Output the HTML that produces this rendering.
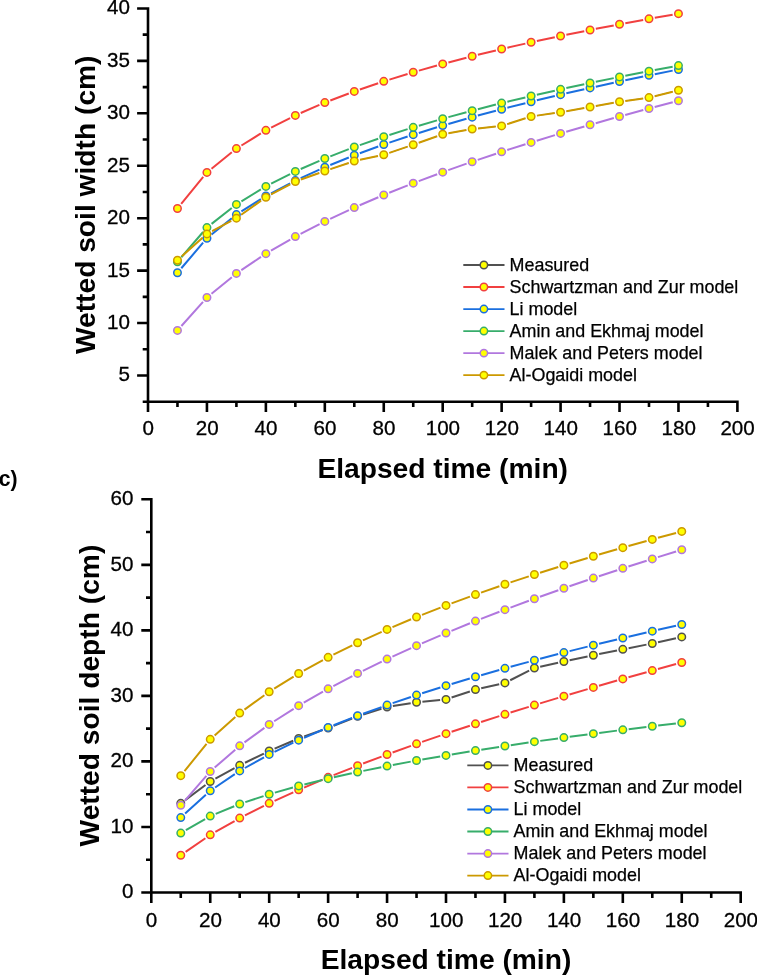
<!DOCTYPE html>
<html><head><meta charset="utf-8"><title>chart</title>
<style>
html,body{margin:0;padding:0;background:#fff;}
body{width:757px;height:975px;overflow:hidden;}
svg{display:block;font-family:"Liberation Sans", sans-serif;will-change:transform;}
</style></head><body>
<svg width="757" height="975" viewBox="0 0 757 975">
<rect width="757" height="975" fill="#fff"/>
<path d="M181.88 256.22L202.53 237.84M212.14 231.14L231.21 220.97M241.22 214.77L261.07 200.64M271.08 194.44L290.15 184.26M300.91 179.51L319.26 172.98M330.41 169.11L348.70 162.93M360.06 159.80L377.99 155.98M389.35 152.85L407.64 146.67M418.79 142.80L437.14 136.27M448.51 133.26L466.36 130.08M478.04 128.42L495.77 126.53M507.26 124.10L525.49 118.27M536.95 115.63L554.74 113.10M566.39 111.24L584.24 108.06M595.86 105.99L613.71 102.82M625.36 100.95L643.15 98.42M654.72 96.16L672.73 91.67" stroke="#515151" stroke-width="0.8" fill="none"/>
<g fill="#FFFF00" stroke="#515151" stroke-width="0.8"><circle cx="177.47" cy="260.14" r="2.6"/><circle cx="206.94" cy="233.92" r="2.6"/><circle cx="236.41" cy="218.19" r="2.6"/><circle cx="265.88" cy="197.22" r="2.6"/><circle cx="295.35" cy="181.49" r="2.6"/><circle cx="324.82" cy="171.00" r="2.6"/><circle cx="354.29" cy="161.04" r="2.6"/><circle cx="383.76" cy="154.74" r="2.6"/><circle cx="413.23" cy="144.78" r="2.6"/><circle cx="442.70" cy="134.29" r="2.6"/><circle cx="472.17" cy="129.05" r="2.6"/><circle cx="501.64" cy="125.90" r="2.6"/><circle cx="531.11" cy="116.47" r="2.6"/><circle cx="560.58" cy="112.27" r="2.6"/><circle cx="590.05" cy="107.03" r="2.6"/><circle cx="619.52" cy="101.78" r="2.6"/><circle cx="648.99" cy="97.59" r="2.6"/><circle cx="678.46" cy="90.25" r="2.6"/></g>
<path d="M181.20 203.97L203.21 176.99M211.53 168.71L231.82 152.30M241.43 145.49L260.86 133.45M271.14 127.68L290.09 118.05M300.76 113.03L319.41 104.94M330.33 100.50L348.78 93.48M359.88 89.48L378.17 83.25M389.40 79.61L407.59 74.00M418.91 70.65L437.02 65.53M448.41 62.43L466.46 57.70M477.90 54.81L495.91 50.43M507.39 47.72L525.36 43.61M536.88 41.06L554.81 37.21M566.36 34.79L584.27 31.15M595.84 28.85L613.73 25.40M625.32 23.22L643.19 19.93M654.80 17.85L672.65 14.71" stroke="#F14040" stroke-width="2.0" fill="none"/>
<g fill="#FFFF00" stroke="#F14040" stroke-width="1.5"><circle cx="177.47" cy="208.54" r="3.75"/><circle cx="206.94" cy="172.42" r="3.75"/><circle cx="236.41" cy="148.59" r="3.75"/><circle cx="265.88" cy="130.35" r="3.75"/><circle cx="295.35" cy="115.38" r="3.75"/><circle cx="324.82" cy="102.60" r="3.75"/><circle cx="354.29" cy="91.38" r="3.75"/><circle cx="383.76" cy="81.35" r="3.75"/><circle cx="413.23" cy="72.26" r="3.75"/><circle cx="442.70" cy="63.92" r="3.75"/><circle cx="472.17" cy="56.21" r="3.75"/><circle cx="501.64" cy="49.03" r="3.75"/><circle cx="531.11" cy="42.30" r="3.75"/><circle cx="560.58" cy="35.96" r="3.75"/><circle cx="590.05" cy="29.97" r="3.75"/><circle cx="619.52" cy="24.28" r="3.75"/><circle cx="648.99" cy="18.87" r="3.75"/><circle cx="678.46" cy="13.69" r="3.75"/></g>
<path d="M181.30 268.24L203.11 242.71M211.54 234.53L231.81 218.28M241.40 211.44L260.89 199.19M271.10 193.31L290.13 183.32M300.72 178.13L319.45 169.61M330.29 164.95L348.82 157.47M359.83 153.23L378.22 146.53M389.36 142.64L407.63 136.54M418.87 132.93L437.06 127.33M448.37 123.96L466.50 118.75M477.87 115.59L495.94 110.73M507.36 107.74L525.39 103.17M536.85 100.34L554.84 96.02M566.33 93.33L584.30 89.23M595.82 86.66L613.75 82.76M625.30 80.30L643.21 76.57M654.78 74.21L672.67 70.64" stroke="#1A6FDF" stroke-width="2.0" fill="none"/>
<g fill="#FFFF00" stroke="#1A6FDF" stroke-width="1.5"><circle cx="177.47" cy="272.72" r="3.75"/><circle cx="206.94" cy="238.22" r="3.75"/><circle cx="236.41" cy="214.59" r="3.75"/><circle cx="265.88" cy="196.05" r="3.75"/><circle cx="295.35" cy="180.57" r="3.75"/><circle cx="324.82" cy="167.16" r="3.75"/><circle cx="354.29" cy="155.26" r="3.75"/><circle cx="383.76" cy="144.51" r="3.75"/><circle cx="413.23" cy="134.67" r="3.75"/><circle cx="442.70" cy="125.59" r="3.75"/><circle cx="472.17" cy="117.13" r="3.75"/><circle cx="501.64" cy="109.20" r="3.75"/><circle cx="531.11" cy="101.72" r="3.75"/><circle cx="560.58" cy="94.64" r="3.75"/><circle cx="590.05" cy="87.92" r="3.75"/><circle cx="619.52" cy="81.50" r="3.75"/><circle cx="648.99" cy="75.37" r="3.75"/><circle cx="678.46" cy="69.48" r="3.75"/></g>
<path d="M181.32 257.24L203.09 232.02M211.58 223.91L231.77 208.06M241.44 201.33L260.85 189.47M271.14 183.71L290.09 174.08M300.75 169.04L319.42 160.86M330.32 156.35L348.79 149.19M359.86 145.11L378.19 138.70M389.38 134.96L407.61 129.15M418.89 125.70L437.04 120.37M448.39 117.15L466.48 112.21M477.89 109.19L495.92 104.58M507.38 101.74L525.37 97.42M536.86 94.73L554.83 90.65M566.35 88.10L584.28 84.23M595.83 81.80L613.74 78.12M625.31 75.79L643.20 72.28M654.79 70.05L672.66 66.69" stroke="#37AD6B" stroke-width="2.0" fill="none"/>
<g fill="#FFFF00" stroke="#37AD6B" stroke-width="1.5"><circle cx="177.47" cy="261.71" r="3.75"/><circle cx="206.94" cy="227.56" r="3.75"/><circle cx="236.41" cy="204.41" r="3.75"/><circle cx="265.88" cy="186.39" r="3.75"/><circle cx="295.35" cy="171.41" r="3.75"/><circle cx="324.82" cy="158.49" r="3.75"/><circle cx="354.29" cy="147.05" r="3.75"/><circle cx="383.76" cy="136.76" r="3.75"/><circle cx="413.23" cy="127.36" r="3.75"/><circle cx="442.70" cy="118.70" r="3.75"/><circle cx="472.17" cy="110.65" r="3.75"/><circle cx="501.64" cy="103.12" r="3.75"/><circle cx="531.11" cy="96.04" r="3.75"/><circle cx="560.58" cy="89.34" r="3.75"/><circle cx="590.05" cy="82.98" r="3.75"/><circle cx="619.52" cy="76.93" r="3.75"/><circle cx="648.99" cy="71.14" r="3.75"/><circle cx="678.46" cy="65.60" r="3.75"/></g>
<path d="M181.41 326.01L203.00 301.95M211.51 293.82L231.84 277.16M241.31 270.14L260.98 256.93M270.99 250.69L290.24 239.53M300.59 233.87L319.58 224.09M330.17 218.89L348.94 210.12M359.71 205.29L378.34 197.28M389.24 192.76L407.75 185.36M418.75 181.10L437.18 174.20M448.26 170.16L466.61 163.68M477.76 159.84L496.05 153.71M507.26 150.04L525.49 144.21M536.75 140.70L554.94 135.14M566.24 131.76L584.39 126.45M595.73 123.19L613.84 118.08M625.21 114.94L643.30 110.02M654.70 106.98L672.75 102.23" stroke="#B177DE" stroke-width="2.0" fill="none"/>
<g fill="#FFFF00" stroke="#B177DE" stroke-width="1.5"><circle cx="177.47" cy="330.40" r="3.75"/><circle cx="206.94" cy="297.55" r="3.75"/><circle cx="236.41" cy="273.43" r="3.75"/><circle cx="265.88" cy="253.65" r="3.75"/><circle cx="295.35" cy="236.57" r="3.75"/><circle cx="324.82" cy="221.39" r="3.75"/><circle cx="354.29" cy="207.62" r="3.75"/><circle cx="383.76" cy="194.95" r="3.75"/><circle cx="413.23" cy="183.17" r="3.75"/><circle cx="442.70" cy="172.13" r="3.75"/><circle cx="472.17" cy="161.71" r="3.75"/><circle cx="501.64" cy="151.83" r="3.75"/><circle cx="531.11" cy="142.42" r="3.75"/><circle cx="560.58" cy="133.42" r="3.75"/><circle cx="590.05" cy="124.79" r="3.75"/><circle cx="619.52" cy="116.48" r="3.75"/><circle cx="648.99" cy="108.47" r="3.75"/><circle cx="678.46" cy="100.74" r="3.75"/></g>
<path d="M181.88 256.22L202.53 237.84M212.14 231.14L231.21 220.97M241.22 214.77L261.07 200.64M271.08 194.44L290.15 184.26M300.91 179.51L319.26 172.98M330.41 169.11L348.70 162.93M360.06 159.80L377.99 155.98M389.35 152.85L407.64 146.67M418.79 142.80L437.14 136.27M448.51 133.26L466.36 130.08M478.04 128.42L495.77 126.53M507.26 124.10L525.49 118.27M536.95 115.63L554.74 113.10M566.39 111.24L584.24 108.06M595.86 105.99L613.71 102.82M625.36 100.95L643.15 98.42M654.72 96.16L672.73 91.67" stroke="#CC9900" stroke-width="2.0" fill="none"/>
<g fill="#FFFF00" stroke="#CC9900" stroke-width="1.5"><circle cx="177.47" cy="260.14" r="3.75"/><circle cx="206.94" cy="233.92" r="3.75"/><circle cx="236.41" cy="218.19" r="3.75"/><circle cx="265.88" cy="197.22" r="3.75"/><circle cx="295.35" cy="181.49" r="3.75"/><circle cx="324.82" cy="171.00" r="3.75"/><circle cx="354.29" cy="161.04" r="3.75"/><circle cx="383.76" cy="154.74" r="3.75"/><circle cx="413.23" cy="144.78" r="3.75"/><circle cx="442.70" cy="134.29" r="3.75"/><circle cx="472.17" cy="129.05" r="3.75"/><circle cx="501.64" cy="125.90" r="3.75"/><circle cx="531.11" cy="116.47" r="3.75"/><circle cx="560.58" cy="112.27" r="3.75"/><circle cx="590.05" cy="107.03" r="3.75"/><circle cx="619.52" cy="101.78" r="3.75"/><circle cx="648.99" cy="97.59" r="3.75"/><circle cx="678.46" cy="90.25" r="3.75"/></g>
<path d="M148.00 7.15V403.01M146.70 401.71H738.70M148.00 375.50H137.10M148.00 323.06H137.10M148.00 270.62H137.10M148.00 218.19H137.10M148.00 165.75H137.10M148.00 113.32H137.10M148.00 60.89H137.10M148.00 8.45H137.10M148.00 401.71H142.70M148.00 349.28H142.70M148.00 296.84H142.70M148.00 244.41H142.70M148.00 191.97H142.70M148.00 139.54H142.70M148.00 87.10H142.70M148.00 34.67H142.70M148.00 401.71V412.11M206.94 401.71V412.11M265.88 401.71V412.11M324.82 401.71V412.11M383.76 401.71V412.11M442.70 401.71V412.11M501.64 401.71V412.11M560.58 401.71V412.11M619.52 401.71V412.11M678.46 401.71V412.11M737.40 401.71V412.11M177.47 401.71V407.11M236.41 401.71V407.11M295.35 401.71V407.11M354.29 401.71V407.11M413.23 401.71V407.11M472.17 401.71V407.11M531.11 401.71V407.11M590.05 401.71V407.11M648.99 401.71V407.11M707.93 401.71V407.11" stroke="#000" stroke-width="2.6" fill="none"/>
<g font-size="20.6" fill="#000" stroke="#000" stroke-width="0.3">
<text x="130.00" y="381.44" text-anchor="end">5</text>
<text x="130.00" y="329.01" text-anchor="end">10</text>
<text x="130.00" y="276.57" text-anchor="end">15</text>
<text x="130.00" y="224.14" text-anchor="end">20</text>
<text x="130.00" y="171.70" text-anchor="end">25</text>
<text x="130.00" y="119.27" text-anchor="end">30</text>
<text x="130.00" y="66.84" text-anchor="end">35</text>
<text x="130.00" y="14.40" text-anchor="end">40</text>
<text x="148.20" y="435.30" text-anchor="middle">0</text>
<text x="207.14" y="435.30" text-anchor="middle">20</text>
<text x="266.08" y="435.30" text-anchor="middle">40</text>
<text x="325.02" y="435.30" text-anchor="middle">60</text>
<text x="383.96" y="435.30" text-anchor="middle">80</text>
<text x="442.90" y="435.30" text-anchor="middle">100</text>
<text x="501.84" y="435.30" text-anchor="middle">120</text>
<text x="560.78" y="435.30" text-anchor="middle">140</text>
<text x="619.72" y="435.30" text-anchor="middle">160</text>
<text x="678.66" y="435.30" text-anchor="middle">180</text>
<text x="737.60" y="435.30" text-anchor="middle">200</text>
</g>
<g font-size="28.2" font-weight="bold" fill="#000">
<text x="442.70" y="477.90" text-anchor="middle">Elapsed time (min)</text>
<text transform="translate(94.95 204.78) rotate(-90)" text-anchor="middle">Wetted soil width (cm)</text>
</g>
<g font-size="17.9" fill="#000" stroke="#000" stroke-width="0.25">
<path d="M463.30 265.00H504.50" stroke="#515151" stroke-width="1.8"/>
<circle cx="483.90" cy="265.00" r="3.7" fill="#FFFF00" stroke="#515151" stroke-width="1.5"/>
<text x="509.60" y="270.80">Measured</text>
<path d="M463.30 287.02H504.50" stroke="#F14040" stroke-width="1.8"/>
<circle cx="483.90" cy="287.02" r="3.7" fill="#FFFF00" stroke="#F14040" stroke-width="1.5"/>
<text x="509.60" y="292.82">Schwartzman and Zur model</text>
<path d="M463.30 309.04H504.50" stroke="#1A6FDF" stroke-width="1.8"/>
<circle cx="483.90" cy="309.04" r="3.7" fill="#FFFF00" stroke="#1A6FDF" stroke-width="1.5"/>
<text x="509.60" y="314.84">Li model</text>
<path d="M463.30 331.06H504.50" stroke="#37AD6B" stroke-width="1.8"/>
<circle cx="483.90" cy="331.06" r="3.7" fill="#FFFF00" stroke="#37AD6B" stroke-width="1.5"/>
<text x="509.60" y="336.86">Amin and Ekhmaj model</text>
<path d="M463.30 353.08H504.50" stroke="#B177DE" stroke-width="1.8"/>
<circle cx="483.90" cy="353.08" r="3.7" fill="#FFFF00" stroke="#B177DE" stroke-width="1.5"/>
<text x="509.60" y="358.88">Malek and Peters model</text>
<path d="M463.30 375.10H504.50" stroke="#CC9900" stroke-width="1.8"/>
<circle cx="483.90" cy="375.10" r="3.7" fill="#FFFF00" stroke="#CC9900" stroke-width="1.5"/>
<text x="509.60" y="380.90">Al-Ogaidi model</text>
</g>
<path d="M185.51 799.85L205.50 785.05M215.41 778.70L234.54 768.19M245.01 762.76L263.88 753.53M274.61 748.64L293.22 740.78M304.21 736.51L322.56 729.98M333.61 725.83L352.10 718.51M363.22 714.56L381.43 708.81M392.88 706.08L410.71 703.19M422.40 701.68L440.13 699.99M451.60 697.56L469.87 691.47M481.22 688.29L499.19 684.22M510.21 680.26L529.14 670.70M540.17 666.76L558.12 662.77M569.65 660.27L587.58 656.48M599.14 654.10L617.03 650.52M628.61 648.21L646.50 644.62M658.05 642.19L676.00 638.19" stroke="#515151" stroke-width="2.0" fill="none"/>
<g fill="#FFFF00" stroke="#515151" stroke-width="1.5"><circle cx="180.77" cy="803.36" r="3.75"/><circle cx="210.24" cy="781.54" r="3.75"/><circle cx="239.71" cy="765.35" r="3.75"/><circle cx="269.18" cy="750.94" r="3.75"/><circle cx="298.65" cy="738.48" r="3.75"/><circle cx="328.12" cy="728.00" r="3.75"/><circle cx="357.59" cy="716.34" r="3.75"/><circle cx="387.06" cy="707.03" r="3.75"/><circle cx="416.53" cy="702.25" r="3.75"/><circle cx="446.00" cy="699.43" r="3.75"/><circle cx="475.47" cy="689.60" r="3.75"/><circle cx="504.94" cy="682.92" r="3.75"/><circle cx="534.41" cy="668.04" r="3.75"/><circle cx="563.88" cy="661.49" r="3.75"/><circle cx="593.35" cy="655.26" r="3.75"/><circle cx="622.82" cy="649.36" r="3.75"/><circle cx="652.29" cy="643.47" r="3.75"/><circle cx="681.76" cy="636.91" r="3.75"/></g>
<path d="M185.62 851.90L205.39 838.23M215.37 831.96L234.58 821.02M244.98 815.46L263.91 805.97M274.55 800.87L293.28 792.31M304.08 787.56L322.69 779.67M333.60 775.19L352.11 767.81M363.11 763.54L381.54 756.58M392.61 752.49L410.98 745.87M422.11 741.93L440.42 735.59M451.60 731.80L469.87 725.70M481.09 722.02L499.32 716.14M510.57 712.57L528.78 706.87M540.06 703.40L558.23 697.87M569.54 694.48L587.69 689.11M599.02 685.80L617.15 680.56M628.50 677.32L646.61 672.21M657.98 669.04L676.07 664.04" stroke="#F14040" stroke-width="2.0" fill="none"/>
<g fill="#FFFF00" stroke="#F14040" stroke-width="1.5"><circle cx="180.77" cy="855.26" r="3.75"/><circle cx="210.24" cy="834.87" r="3.75"/><circle cx="239.71" cy="818.10" r="3.75"/><circle cx="269.18" cy="803.32" r="3.75"/><circle cx="298.65" cy="789.86" r="3.75"/><circle cx="328.12" cy="777.37" r="3.75"/><circle cx="357.59" cy="765.63" r="3.75"/><circle cx="387.06" cy="754.49" r="3.75"/><circle cx="416.53" cy="743.86" r="3.75"/><circle cx="446.00" cy="733.66" r="3.75"/><circle cx="475.47" cy="723.83" r="3.75"/><circle cx="504.94" cy="714.33" r="3.75"/><circle cx="534.41" cy="705.11" r="3.75"/><circle cx="563.88" cy="696.16" r="3.75"/><circle cx="593.35" cy="687.43" r="3.75"/><circle cx="622.82" cy="678.92" r="3.75"/><circle cx="652.29" cy="670.61" r="3.75"/><circle cx="681.76" cy="662.47" r="3.75"/></g>
<path d="M185.14 813.61L205.87 794.76M215.13 787.49L234.82 774.18M244.86 768.00L264.03 757.30M274.49 751.86L293.34 742.72M304.06 737.81L322.71 729.74M333.61 725.23L352.10 717.94M363.13 713.76L381.52 707.07M392.65 703.16L410.94 696.96M422.15 693.27L440.38 687.46M451.65 683.97L469.82 678.49M481.14 675.17L499.27 669.98M510.63 666.80L528.72 661.85M540.12 658.81L558.17 654.08M569.60 651.15L587.63 646.61M599.08 643.78L617.09 639.42M628.56 636.69L646.55 632.48M658.04 629.83L676.01 625.77" stroke="#1A6FDF" stroke-width="2.0" fill="none"/>
<g fill="#FFFF00" stroke="#1A6FDF" stroke-width="1.5"><circle cx="180.77" cy="817.58" r="3.75"/><circle cx="210.24" cy="790.79" r="3.75"/><circle cx="239.71" cy="770.88" r="3.75"/><circle cx="269.18" cy="754.43" r="3.75"/><circle cx="298.65" cy="740.15" r="3.75"/><circle cx="328.12" cy="727.39" r="3.75"/><circle cx="357.59" cy="715.78" r="3.75"/><circle cx="387.06" cy="705.06" r="3.75"/><circle cx="416.53" cy="695.06" r="3.75"/><circle cx="446.00" cy="685.67" r="3.75"/><circle cx="475.47" cy="676.79" r="3.75"/><circle cx="504.94" cy="668.35" r="3.75"/><circle cx="534.41" cy="660.30" r="3.75"/><circle cx="563.88" cy="652.58" r="3.75"/><circle cx="593.35" cy="645.17" r="3.75"/><circle cx="622.82" cy="638.03" r="3.75"/><circle cx="652.29" cy="631.13" r="3.75"/><circle cx="681.76" cy="624.46" r="3.75"/></g>
<path d="M185.88 830.16L205.13 819.05M215.70 813.86L234.25 806.22M245.31 802.12L263.58 796.08M274.86 792.62L292.97 787.52M304.38 784.51L322.39 780.04M333.88 777.34L351.83 773.35M363.37 770.89L381.28 767.25M392.86 764.99L410.73 761.64M422.34 759.53L440.19 756.42M451.82 754.45L469.65 751.52M481.30 749.67L499.11 746.91M510.78 745.15L528.57 742.54M540.25 740.87L558.04 738.39M569.73 736.79L587.50 734.42M599.20 732.89L616.97 730.62M628.68 729.15L646.43 726.97M658.15 725.55L675.90 723.45" stroke="#37AD6B" stroke-width="2.0" fill="none"/>
<g fill="#FFFF00" stroke="#37AD6B" stroke-width="1.5"><circle cx="180.77" cy="833.11" r="3.75"/><circle cx="210.24" cy="816.10" r="3.75"/><circle cx="239.71" cy="803.98" r="3.75"/><circle cx="269.18" cy="794.22" r="3.75"/><circle cx="298.65" cy="785.92" r="3.75"/><circle cx="328.12" cy="778.63" r="3.75"/><circle cx="357.59" cy="772.06" r="3.75"/><circle cx="387.06" cy="766.08" r="3.75"/><circle cx="416.53" cy="760.55" r="3.75"/><circle cx="446.00" cy="755.40" r="3.75"/><circle cx="475.47" cy="750.57" r="3.75"/><circle cx="504.94" cy="746.01" r="3.75"/><circle cx="534.41" cy="741.69" r="3.75"/><circle cx="563.88" cy="737.57" r="3.75"/><circle cx="593.35" cy="733.64" r="3.75"/><circle cx="622.82" cy="729.87" r="3.75"/><circle cx="652.29" cy="726.25" r="3.75"/><circle cx="681.76" cy="722.76" r="3.75"/></g>
<path d="M184.64 800.87L206.37 775.90M214.69 767.58L235.26 749.69M244.48 742.35L264.41 727.87M274.16 721.24L293.67 708.83M303.77 702.74L323.00 691.74M333.35 686.08L352.36 676.12M362.90 670.81L381.75 661.65M392.43 656.64L411.16 648.13M421.95 643.36L440.58 635.38M451.47 630.83L470.00 623.29M480.97 618.94L499.44 611.78M510.47 607.60L528.88 600.77M539.97 596.74L558.32 590.20M569.46 586.31L587.77 580.03M598.95 576.26L617.22 570.21M628.44 566.56L646.67 560.71M657.92 557.16L676.13 551.51" stroke="#B177DE" stroke-width="2.0" fill="none"/>
<g fill="#FFFF00" stroke="#B177DE" stroke-width="1.5"><circle cx="180.77" cy="805.33" r="3.75"/><circle cx="210.24" cy="771.45" r="3.75"/><circle cx="239.71" cy="745.82" r="3.75"/><circle cx="269.18" cy="724.41" r="3.75"/><circle cx="298.65" cy="705.67" r="3.75"/><circle cx="328.12" cy="688.81" r="3.75"/><circle cx="357.59" cy="673.38" r="3.75"/><circle cx="387.06" cy="659.08" r="3.75"/><circle cx="416.53" cy="645.68" r="3.75"/><circle cx="446.00" cy="633.05" r="3.75"/><circle cx="475.47" cy="621.07" r="3.75"/><circle cx="504.94" cy="609.65" r="3.75"/><circle cx="534.41" cy="598.72" r="3.75"/><circle cx="563.88" cy="588.22" r="3.75"/><circle cx="593.35" cy="578.12" r="3.75"/><circle cx="622.82" cy="568.36" r="3.75"/><circle cx="652.29" cy="558.91" r="3.75"/><circle cx="681.76" cy="549.76" r="3.75"/></g>
<path d="M184.49 771.06L206.52 743.92M214.64 735.41L235.31 717.00M244.49 709.62L264.40 695.21M274.19 688.64L293.64 676.59M303.82 670.65L322.95 660.17M333.41 654.71L352.30 645.36M362.96 640.31L381.69 631.82M392.50 627.10L411.09 619.29M422.02 614.85L440.51 607.59M451.53 603.39L469.94 596.60M481.04 592.61L499.37 586.21M510.54 582.41L528.81 576.34M540.03 572.70L558.26 566.93M569.53 563.44L587.70 557.93M599.01 554.56L617.16 549.28M628.50 546.04L646.61 540.97M657.99 537.84L676.06 532.95" stroke="#CC9900" stroke-width="2.0" fill="none"/>
<g fill="#FFFF00" stroke="#CC9900" stroke-width="1.5"><circle cx="180.77" cy="775.64" r="3.75"/><circle cx="210.24" cy="739.34" r="3.75"/><circle cx="239.71" cy="713.07" r="3.75"/><circle cx="269.18" cy="691.75" r="3.75"/><circle cx="298.65" cy="673.48" r="3.75"/><circle cx="328.12" cy="657.33" r="3.75"/><circle cx="357.59" cy="642.75" r="3.75"/><circle cx="387.06" cy="629.38" r="3.75"/><circle cx="416.53" cy="617.00" r="3.75"/><circle cx="446.00" cy="605.44" r="3.75"/><circle cx="475.47" cy="594.56" r="3.75"/><circle cx="504.94" cy="584.26" r="3.75"/><circle cx="534.41" cy="574.48" r="3.75"/><circle cx="563.88" cy="565.15" r="3.75"/><circle cx="593.35" cy="556.21" r="3.75"/><circle cx="622.82" cy="547.63" r="3.75"/><circle cx="652.29" cy="539.38" r="3.75"/><circle cx="681.76" cy="531.41" r="3.75"/></g>
<path d="M151.30 498.00V893.78M150.00 892.48H742.00M151.30 892.48H141.30M151.30 826.95H141.30M151.30 761.42H141.30M151.30 695.89H141.30M151.30 630.36H141.30M151.30 564.83H141.30M151.30 499.30H141.30M151.30 859.72H146.00M151.30 794.18H146.00M151.30 728.65H146.00M151.30 663.12H146.00M151.30 597.60H146.00M151.30 532.07H146.00M151.30 892.48V902.88M210.24 892.48V902.88M269.18 892.48V902.88M328.12 892.48V902.88M387.06 892.48V902.88M446.00 892.48V902.88M504.94 892.48V902.88M563.88 892.48V902.88M622.82 892.48V902.88M681.76 892.48V902.88M740.70 892.48V902.88M180.77 892.48V897.88M239.71 892.48V897.88M298.65 892.48V897.88M357.59 892.48V897.88M416.53 892.48V897.88M475.47 892.48V897.88M534.41 892.48V897.88M593.35 892.48V897.88M652.29 892.48V897.88M711.23 892.48V897.88" stroke="#000" stroke-width="2.6" fill="none"/>
<g font-size="20.6" fill="#000" stroke="#000" stroke-width="0.3">
<text x="133.45" y="898.43" text-anchor="end">0</text>
<text x="133.45" y="832.90" text-anchor="end">10</text>
<text x="133.45" y="767.37" text-anchor="end">20</text>
<text x="133.45" y="701.84" text-anchor="end">30</text>
<text x="133.45" y="636.31" text-anchor="end">40</text>
<text x="133.45" y="570.78" text-anchor="end">50</text>
<text x="133.45" y="505.25" text-anchor="end">60</text>
<text x="151.50" y="926.65" text-anchor="middle">0</text>
<text x="210.44" y="926.65" text-anchor="middle">20</text>
<text x="269.38" y="926.65" text-anchor="middle">40</text>
<text x="328.32" y="926.65" text-anchor="middle">60</text>
<text x="387.26" y="926.65" text-anchor="middle">80</text>
<text x="446.20" y="926.65" text-anchor="middle">100</text>
<text x="505.14" y="926.65" text-anchor="middle">120</text>
<text x="564.08" y="926.65" text-anchor="middle">140</text>
<text x="623.02" y="926.65" text-anchor="middle">160</text>
<text x="681.96" y="926.65" text-anchor="middle">180</text>
<text x="740.90" y="926.65" text-anchor="middle">200</text>
</g>
<g font-size="28.2" font-weight="bold" fill="#000">
<text x="446.00" y="968.70" text-anchor="middle">Elapsed time (min)</text>
<text transform="translate(99.40 695.59) rotate(-90)" text-anchor="middle">Wetted soil depth (cm)</text>
</g>
<g font-size="17.9" fill="#000" stroke="#000" stroke-width="0.25">
<path d="M467.30 765.45H508.50" stroke="#515151" stroke-width="1.8"/>
<circle cx="487.90" cy="765.45" r="3.7" fill="#FFFF00" stroke="#515151" stroke-width="1.5"/>
<text x="513.60" y="771.25">Measured</text>
<path d="M467.30 787.47H508.50" stroke="#F14040" stroke-width="1.8"/>
<circle cx="487.90" cy="787.47" r="3.7" fill="#FFFF00" stroke="#F14040" stroke-width="1.5"/>
<text x="513.60" y="793.27">Schwartzman and Zur model</text>
<path d="M467.30 809.49H508.50" stroke="#1A6FDF" stroke-width="1.8"/>
<circle cx="487.90" cy="809.49" r="3.7" fill="#FFFF00" stroke="#1A6FDF" stroke-width="1.5"/>
<text x="513.60" y="815.29">Li model</text>
<path d="M467.30 831.51H508.50" stroke="#37AD6B" stroke-width="1.8"/>
<circle cx="487.90" cy="831.51" r="3.7" fill="#FFFF00" stroke="#37AD6B" stroke-width="1.5"/>
<text x="513.60" y="837.31">Amin and Ekhmaj model</text>
<path d="M467.30 853.53H508.50" stroke="#B177DE" stroke-width="1.8"/>
<circle cx="487.90" cy="853.53" r="3.7" fill="#FFFF00" stroke="#B177DE" stroke-width="1.5"/>
<text x="513.60" y="859.33">Malek and Peters model</text>
<path d="M467.30 875.55H508.50" stroke="#CC9900" stroke-width="1.8"/>
<circle cx="487.90" cy="875.55" r="3.7" fill="#FFFF00" stroke="#CC9900" stroke-width="1.5"/>
<text x="513.60" y="881.35">Al-Ogaidi model</text>
</g>
<text x="-1.2" y="486.1" font-size="21.2" font-weight="bold" fill="#000">c)</text>
</svg>
</body></html>
